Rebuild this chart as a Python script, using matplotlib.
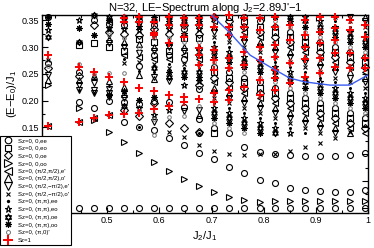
import matplotlib
matplotlib.use("Agg")
import matplotlib.pyplot as plt
from matplotlib.path import Path
from matplotlib.ticker import MultipleLocator

plt.rcParams['font.family'] = ['Liberation Sans', 'DejaVu Sans']
plt.rcParams['mathtext.fontset'] = 'custom'
plt.rcParams['mathtext.rm'] = 'Liberation Sans'
plt.rcParams['mathtext.it'] = 'Liberation Sans'

# column positions J2/J1 (J2 = 2.89 J' - 1)
J2 = [0.387, 0.445, 0.474, 0.503, 0.532, 0.561, 0.590, 0.618, 0.647, 0.676, 0.705,
      0.734, 0.763, 0.792, 0.821, 0.850, 0.879, 0.908, 0.937, 0.965, 0.994]

# levels (E-E0)/J1 per column, one list per symmetry sector
ee0 = [[0.356, 0.270, 0.0], [0.254, 0.197, 0.0], [0.351, 0.186, 0.0], [0.343, 0.199, 0.0],
       [0.341, 0.198, 0.160, 0.0], [0.349, 0.264, 0.194, 0.151, 0.0], [0.341, 0.285, 0.200, 0.145, 0.0],
       [0.341, 0.285, 0.197, 0.130, 0.0], [0.333, 0.277, 0.188, 0.117, 0.0],
       [0.341, 0.285, 0.221, 0.166, 0.140, 0.102, 0.0], [0.262, 0.148, 0.091, 0.0],
       [0.253, 0.139, 0.076, 0.0], [0.357, 0.243, 0.113, 0.065, 0.0], [0.348, 0.234, 0.104, 0.052, 0.0],
       [0.338, 0.224, 0.100, 0.046, 0.0], [0.329, 0.215, 0.098, 0.037, 0.0], [0.319, 0.205, 0.097, 0.033, 0.0],
       [0.310, 0.196, 0.097, 0.031, 0.0], [0.300, 0.186, 0.097, 0.029, 0.0], [0.291, 0.177, 0.098, 0.029, 0.0],
       [0.281, 0.167, 0.102, 0.033, 0.0]]
eo0 = [[], [0.304], [0.308], [0.301], [0.293], [0.315], [0.309], [0.293], [0.317], [0.317],
       [0.253, 0.139], [0.357, 0.243], [0.348, 0.234], [0.338, 0.224], [0.329, 0.215], [0.319, 0.205],
       [0.310, 0.196], [0.300, 0.186], [0.291, 0.177], [0.281, 0.167], [0.272, 0.158]]
oe0 = [[0.261], [0.246], [0.341], [0.329], [0.325, 0.183], [0.323, 0.172], [0.333, 0.196], [0.325, 0.158],
       [0.341, 0.149], [0.325, 0.229, 0.141], [0.357, 0.243], [0.348, 0.234], [0.338, 0.224], [0.329, 0.215],
       [0.319, 0.205], [0.310, 0.196], [0.300, 0.186], [0.291, 0.177], [0.281, 0.167], [0.272, 0.158],
       [0.262, 0.148]]
oo0 = [[0.229], [0.186], [0.163], [0.141], [0.123], [0.103], [0.085], [0.068], [0.053], [0.040], [0.029],
       [0.020], [0.014], [0.011], [0.012], [0.012], [0.012], [0.012], [0.012], [0.012], [0.013]]
pp_e = [[0.153], [0.160], [0.168], [0.346, 0.173], [0.285], [0.281], [0.277], [0.277], [0.285], [0.277],
        [0.348, 0.234], [0.338, 0.224], [0.329, 0.215], [0.319, 0.205], [0.310, 0.196], [0.300, 0.186],
        [0.291, 0.177], [0.281, 0.167], [0.272, 0.158], [0.262, 0.148], [0.253, 0.139]]
pp_o = [[0.239], [0.239], [0.246], [0.315, 0.236], [0.309, 0.226, 0.213], [0.306, 0.247], [0.301, 0.240],
        [0.309], [0.301], [0.301, 0.174], [0.338, 0.224], [0.329, 0.215], [0.319, 0.205], [0.310, 0.196],
        [0.300, 0.186], [0.291, 0.177], [0.281, 0.167], [0.272, 0.158], [0.262, 0.148], [0.253, 0.139],
        [0.357, 0.243]]
pm_e = [[0.248], [0.229, 0.220], [0.233, 0.220, 0.214], [0.308, 0.222, 0.214, 0.206], [0.301, 0.205],
        [0.289], [0.293, 0.245, 0.160], [0.301, 0.237], [0.293, 0.180], [0.293, 0.182], [0.329, 0.215],
        [0.319, 0.205], [0.310, 0.196], [0.300, 0.186], [0.291, 0.177], [0.281, 0.167], [0.272, 0.158],
        [0.262, 0.148], [0.253, 0.139], [0.357, 0.243], [0.348, 0.234]]
pm_o = [[0.276], [], [0.242], [0.332], [0.270], [0.272], [0.269], [0.261, 0.141], [0.269, 0.132],
        [0.269, 0.117], [0.319, 0.205, 0.106], [0.310, 0.196, 0.100], [0.300, 0.186, 0.098],
        [0.291, 0.177, 0.100], [0.281, 0.167, 0.100], [0.272, 0.158, 0.106], [0.262, 0.148, 0.113],
        [0.253, 0.139, 0.121], [0.357, 0.243, 0.130], [0.348, 0.234, 0.141], [0.338, 0.224]]
PP_ee = [[], [0.220], [0.214], [0.318, 0.228], [0.277], [0.255, 0.151], [0.253], [0.269], [0.261],
         [0.261, 0.140], [0.310, 0.196], [0.300, 0.186], [0.291, 0.177], [0.281, 0.167], [0.272, 0.158],
         [0.262, 0.148], [0.253, 0.139], [0.357, 0.243], [0.348, 0.234], [0.338, 0.224], [0.329, 0.215]]
PP_eo = [[0.332], [0.351], [], [0.336], [0.333], [0.332, 0.187], [0.325, 0.173], [0.333, 0.183],
         [0.325, 0.229], [0.333, 0.237], [0.300, 0.186], [0.291, 0.177], [0.281, 0.167], [0.272, 0.158],
         [0.262, 0.148], [0.253, 0.139], [0.357, 0.243], [0.348, 0.234], [0.338, 0.224], [0.329, 0.215],
         [0.319, 0.205]]
PP_oe = [[0.319], [0.310], [0.360], [0.357], [0.357, 0.190], [0.357], [0.349, 0.261], [0.357, 0.245],
         [0.349, 0.253], [0.357, 0.253], [0.291, 0.177], [0.281, 0.167], [0.272, 0.158], [0.262, 0.148],
         [0.253, 0.139], [0.357, 0.243], [0.348, 0.234], [0.338, 0.224], [0.329, 0.215], [0.319, 0.205],
         [0.310, 0.196]]
PP_oo = [[0.356, 0.343], [0.336], [0.323], [0.350, 0.210], [0.349, 0.218], [0.340, 0.201], [0.357, 0.207],
         [0.349, 0.253], [0.357, 0.245], [0.349, 0.245], [0.281, 0.167], [0.272, 0.158], [0.262, 0.148],
         [0.253, 0.139], [0.357, 0.243], [0.348, 0.234], [0.338, 0.224], [0.329, 0.215], [0.319, 0.205],
         [0.310, 0.196], [0.300, 0.186]]
P0 = [[0.265], [0.268], [0.250], [0.322, 0.252], [0.317, 0.252], [0.298, 0.181], [0.317, 0.166, 0.136],
      [0.317, 0.170], [0.309, 0.172], [0.309, 0.190], [0.272, 0.158], [0.262, 0.148], [0.253, 0.139],
      [0.357, 0.243], [0.348, 0.234], [0.338, 0.224], [0.329, 0.215], [0.319, 0.205], [0.310, 0.196],
      [0.300, 0.186], [0.291, 0.177]]
sz1 = [[0.285, 0.153], [0.263, 0.160], [0.254, 0.168], [0.244, 0.173], [0.354, 0.347, 0.235, 0.175],
       [0.356, 0.347, 0.224, 0.177], [0.347, 0.327, 0.323, 0.218, 0.184], [0.356, 0.341, 0.308, 0.211, 0.190],
       [0.354, 0.341, 0.319, 0.207, 0.197], [0.354, 0.341, 0.298, 0.285, 0.267, 0.203],
       [0.356, 0.338, 0.295, 0.276, 0.257, 0.214, 0.197], [0.360, 0.338, 0.323, 0.280, 0.261, 0.220, 0.201],
       [0.354, 0.338, 0.319, 0.291, 0.267, 0.226], [0.354, 0.332, 0.300, 0.276, 0.239, 0.211],
       [0.356, 0.338, 0.304, 0.282, 0.257, 0.242, 0.220], [0.341, 0.313, 0.270, 0.233],
       [0.351, 0.323, 0.300, 0.278, 0.244], [0.356, 0.328, 0.308, 0.280, 0.252],
       [0.356, 0.336, 0.313, 0.289, 0.263], [0.351, 0.332, 0.289, 0.261], [0.341, 0.319, 0.280, 0.261]]

# blue curve
blue_x = [0.690, 0.700, 0.735, 0.774, 0.812, 0.850, 0.879, 0.927, 0.965, 1.000]
blue_y = [0.369, 0.360, 0.327, 0.285, 0.263, 0.242, 0.235, 0.229, 0.229, 0.248]

labels = ["Sz=0, 0,ee", "Sz=0, 0,eo", "Sz=0, 0,oe", "Sz=0, 0,oo",
          "Sz=0, (\u03c0/2,\u03c0/2),e'", "Sz=0, (\u03c0/2,\u03c0/2),o'",
          "Sz=0, (\u03c0/2,\u2212\u03c0/2),e'", "Sz=0, (\u03c0/2,\u2212\u03c0/2),o'",
          "Sz=0, (\u03c0,\u03c0),ee", "Sz=0, (\u03c0,\u03c0),eo", "Sz=0, (\u03c0,\u03c0),oe",
          "Sz=0, (\u03c0,\u03c0),oo", "Sz=0, (\u03c0,0)'", "Sz=1"]

hexagram = Path([(0, 1), (-0.866, -0.5), (0.866, -0.5), (0, 0),
                 (0, -1), (0.866, 0.5), (-0.866, 0.5), (0, 0)],
                [Path.MOVETO, Path.LINETO, Path.LINETO, Path.CLOSEPOLY] * 2)


def flat(cols):
    xs, ys = [], []
    for x, col in zip(J2, cols):
        for y in col:
            xs.append(x)
            ys.append(y)
    return xs, ys


fig = plt.figure(figsize=(3.74, 2.48), dpi=100)
ax = fig.add_axes([42 / 374, 1 - 213 / 248, 326 / 374, 198 / 248])

ew = 0.8
open_kw = dict(ls='none', mfc='none', mec='k', mew=ew, clip_on=False)
styles = [
    (ee0, dict(marker='o', ms=4.3, **open_kw)),
    (eo0, dict(marker='s', ms=3.8, **open_kw)),
    (oe0, dict(marker='D', ms=3.6, **open_kw)),
    (oo0, dict(marker='>', ms=4.6, **open_kw)),
    (pp_e, dict(marker='<', ms=4.6, **open_kw)),
    (pp_o, dict(marker='^', ms=4.6, **open_kw)),
    (pm_e, dict(marker='v', ms=4.6, **open_kw)),
    (pm_o, dict(marker='x', ms=3.2, ls='none', color='k', mew=0.8, clip_on=False)),
    (PP_ee, dict(marker='o', ms=2.2, ls='none', color='k', mew=0, clip_on=False)),
    (PP_eo, dict(marker='*', ms=4.8, **open_kw)),
    (PP_oe, dict(marker=hexagram, ms=4.6, **open_kw)),
]

handles = []
for data, kw in styles:
    xs, ys = flat(data)
    h, = ax.plot(xs, ys, **kw)
    handles.append(h)

xs, ys = flat(PP_oo)
h1, = ax.plot(xs, ys, ls='none', marker=(8, 2, 0), ms=4.5, mec='k', mew=0.8, clip_on=False)
h2, = ax.plot(xs, ys, ls='none', marker='o', ms=2.6, color='k', mew=0, clip_on=False)
handles.append((h1, h2))

xs, ys = flat(P0)
h, = ax.plot(xs, ys, ls='none', marker='o', ms=2.6, mfc='none', mec='0.45', mew=0.7, clip_on=False)
handles.append(h)

xs, ys = flat(sz1)
h, = ax.plot(xs, ys, ls='none', marker='+', ms=6, color='red', mew=1.4, clip_on=False, zorder=3)
handles.append(h)

ax.plot(blue_x, blue_y, color='#3a5cf0', lw=1.0, zorder=4)

ax.set_xlim(0.375, 1.0)
ax.set_ylim(-0.01, 0.36)
ax.xaxis.set_major_locator(MultipleLocator(0.1))
ax.xaxis.set_minor_locator(MultipleLocator(0.05))
ax.yaxis.set_major_locator(MultipleLocator(0.05))
ax.yaxis.set_minor_locator(MultipleLocator(0.025))
ax.tick_params(which='both', direction='in', top=True, right=True, labelsize=6.5, width=0.8, pad=2)
ax.tick_params(which='major', length=4)
ax.tick_params(which='minor', length=2)
ax.set_xticks([0.5, 0.6, 0.7, 0.8, 0.9, 1.0], ['0.5', '0.6', '0.7', '0.8', '0.9', '1'])
for s in ax.spines.values():
    s.set_linewidth(1.0)

ax.set_title("N=32, LE\u2212Spectrum along J$_2$=2.89J'\u22121", fontsize=8, pad=2)
ax.set_xlabel("J$_2$/J$_1$", fontsize=8, labelpad=3)
ax.set_ylabel("(E\u2212E$_0$)/J$_1$", fontsize=8)
ax.yaxis.set_label_coords(-0.072, 0.6)

leg = fig.legend(handles, labels, loc='upper left', bbox_to_anchor=(0.0, 1 - 136 / 248),
                 fontsize=4.3, frameon=True, fancybox=False, framealpha=1, edgecolor='k',
                 borderpad=0.3, labelspacing=0.42, handlelength=2.2, handletextpad=0.5,
                 borderaxespad=0, markerscale=1.1)
leg.get_frame().set_linewidth(0.8)

fig.savefig("out.png", dpi=100)
